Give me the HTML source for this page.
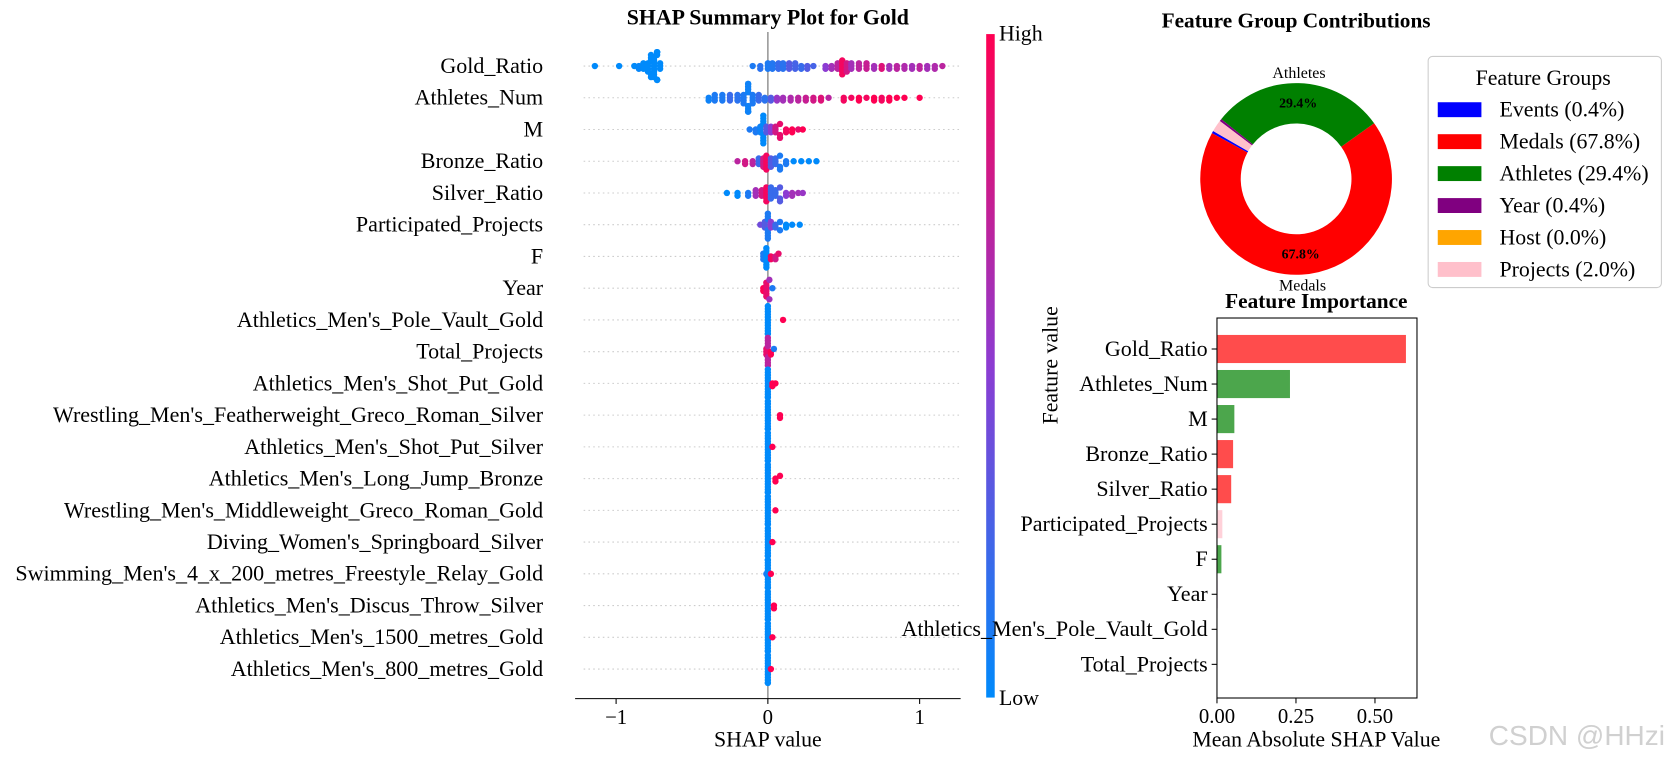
<!DOCTYPE html>
<html><head><meta charset="utf-8"><style>
html,body{margin:0;padding:0;background:#fff;width:1669px;height:763px;overflow:hidden}
svg{font-family:"Liberation Serif",serif}
</style></head><body>
<svg id="c" width="1669" height="763" xmlns="http://www.w3.org/2000/svg">
<defs><linearGradient id="cb" x1="0" y1="1" x2="0" y2="0">
<stop offset="0" stop-color="#008afb"/><stop offset="0.5" stop-color="#8c3cd2"/><stop offset="1" stop-color="#ff0052"/></linearGradient></defs>
<g id="g" transform="scale(1.065)"></g>
<text x="1665" y="745" text-anchor="end" font-size="28" fill="#d0d0d0" font-family="Liberation Sans, sans-serif">CSDN @HHzi</text>
</svg>
<script>
const features=["Gold_Ratio","Athletes_Num","M","Bronze_Ratio","Silver_Ratio","Participated_Projects","F","Year","Athletics_Men's_Pole_Vault_Gold","Total_Projects","Athletics_Men's_Shot_Put_Gold","Wrestling_Men's_Featherweight_Greco_Roman_Silver","Athletics_Men's_Shot_Put_Silver","Athletics_Men's_Long_Jump_Bronze","Wrestling_Men's_Middleweight_Greco_Roman_Gold","Diving_Women's_Springboard_Silver","Swimming_Men's_4_x_200_metres_Freestyle_Relay_Gold","Athletics_Men's_Discus_Throw_Silver","Athletics_Men's_1500_metres_Gold","Athletics_Men's_800_metres_Gold"];
// points: [shap value, feature value (0..1), count]
const shapPoints=[
[[-1.14,0,1],[-0.98,0,1],[-0.88,0,1],[-0.85,0.02,2],[-0.82,0,3],[-0.79,0,4],[-0.77,0,5],[-0.75,0,8],[-0.73,0,10],[-0.71,0,3],[-0.1,0.1,1],[-0.05,0.15,2],[0,0.1,3],[0.03,0.12,3],[0.07,0.2,3],[0.1,0.15,3],[0.14,0.3,3],[0.18,0.25,3],[0.22,0.2,2],[0.26,0.3,2],[0.3,0.25,1],[0.38,0.5,2],[0.42,0.6,2],[0.46,0.7,3],[0.49,0.95,6],[0.52,0.8,4],[0.55,0.6,3],[0.6,0.7,3],[0.65,0.75,3],[0.7,0.6,2],[0.75,0.85,2],[0.8,0.6,2],[0.85,0.7,2],[0.9,0.65,2],[0.95,0.6,2],[1.0,0.7,2],[1.05,0.6,2],[1.1,0.65,2],[1.15,0.7,1]],
[[-0.39,0.05,2],[-0.35,0.1,3],[-0.3,0.1,3],[-0.25,0.2,3],[-0.2,0.15,3],[-0.16,0.1,4],[-0.13,0.05,10],[-0.1,0.1,4],[-0.06,0.2,3],[-0.02,0.15,2],[0.02,0.3,2],[0.06,0.55,2],[0.1,0.6,2],[0.15,0.65,2],[0.2,0.7,2],[0.25,0.75,2],[0.3,0.8,2],[0.35,0.85,2],[0.4,0.7,1],[0.5,0.95,2],[0.55,0.95,1],[0.6,1,2],[0.65,0.95,1],[0.7,1,2],[0.75,0.95,2],[0.8,1,2],[0.85,1,1],[0.9,1,1],[1.0,1,1]],
[[-0.12,0.1,1],[-0.08,0.1,2],[-0.05,0.05,3],[-0.03,0,8],[-0.01,0.3,3],[0.02,0.5,3],[0.05,0.8,3],[0.08,0.9,3],[0.12,0.95,2],[0.16,1,2],[0.2,0.9,1],[0.23,1,1]],
[[-0.2,0.7,1],[-0.15,0.8,2],[-0.1,0.7,2],[-0.06,0.2,3],[-0.03,0.8,4],[-0.01,0.95,6],[0.02,0.3,4],[0.05,0.2,3],[0.08,0.1,3],[0.12,0.1,2],[0.17,0,1],[0.22,0,1],[0.27,0,1],[0.32,0,1]],
[[-0.27,0,1],[-0.2,0,2],[-0.13,0.1,2],[-0.08,0.6,3],[-0.04,0.8,3],[-0.01,0.95,6],[0.02,0.2,5],[0.05,0.2,3],[0.08,0.3,3],[0.12,0.5,2],[0.16,0.6,2],[0.2,0.6,1],[0.23,0.55,1]],
[[-0.05,0.4,1],[-0.02,0.3,3],[0,0.1,7],[0.02,0.5,3],[0.05,0.2,2],[0.08,0.1,2],[0.12,0,2],[0.16,0,1],[0.21,0,1]],
[[-0.03,0.1,3],[-0.01,0,8],[0.02,0.95,2],[0.05,0.8,2],[0.07,0.9,1]],
[[-0.03,1,2],[-0.01,0.9,6],[0.01,0.6,2],[0.03,0.1,1]],
[[0,0,12],[0.1,1,1]],
[[-0.01,0.9,3],[0,0.7,8],[0.02,1,2],[0.04,0.1,1]],
[[0,0,12],[0.03,1,2],[0.05,1,1]],
[[0,0,12],[0.08,1,2]],
[[0,0,12],[0.03,1,1]],
[[0,0,12],[0.05,1,2],[0.08,1,1]],
[[0,0,12],[0.05,1,1]],
[[0,0,12],[0.03,1,1]],
[[-0.01,0.1,1],[0,0,12],[0.02,1,1]],
[[0,0,12],[0.04,1,2]],
[[0,0,12],[0.03,1,1]],
[[0,0,12],[0.02,1,1]]
];
const shapTicks=[-1,0,1];
const groupNames=["Events","Medals","Athletes","Year","Host","Projects"];
const groupShares=[0.4,67.8,29.4,0.4,0.0,2.0];
const groupColors=["#0000ff","#ff0000","#008000","#800080","#ffa500","#ffc0cb"];
const impFeatures=["Gold_Ratio","Athletes_Num","M","Bronze_Ratio","Silver_Ratio","Participated_Projects","F","Year","Athletics_Men's_Pole_Vault_Gold","Total_Projects"];
const impValues=[0.598,0.231,0.055,0.051,0.045,0.017,0.014,0.002,0.001,0.001];
const impColors=["#ff4c4c","#4ca64c","#4ca64c","#ff4c4c","#ff4c4c","#ffd1d9","#4ca64c","#cc99cc","#ff4c4c","#ffd1d9"];
const impTicks=[0,0.25,0.5];

const G=document.getElementById('g');const NS="http://www.w3.org/2000/svg";
function mk(t,a,txt){const e=document.createElementNS(NS,t);for(const k in a)e.setAttribute(k,a[k]);if(txt!==undefined)e.textContent=txt;G.appendChild(e);return e;}
const sx=v=>721+v*142.5, sy=i=>62+i*29.8;
function col(f){const a=[0,138,251],m=[140,60,210],b=[255,0,82];let c0,c1,t;if(f<0.5){c0=a;c1=m;t=f*2}else{c0=m;c1=b;t=(f-0.5)*2}return `rgb(${c0.map((v,i)=>Math.round(v+(c1[i]-v)*t)).join(',')})`;}
let t=mk('text',{x:721,y:23,'text-anchor':'middle','font-size':20.5,'font-weight':'bold'},'SHAP Summary Plot for Gold');

features.forEach((f,i)=>{
 let g=mk('line',{x1:548,x2:902,y1:sy(i),y2:sy(i),stroke:'#ccc','stroke-dasharray':'1.5,3','stroke-width':1});
 
 let l=mk('text',{x:510,y:sy(i)+6.5,'text-anchor':'end','font-size':20.7},f);
 
});
let zl=mk('line',{x1:721,x2:721,y1:30,y2:656,stroke:'#999','stroke-width':1.5});

shapPoints.forEach((pts,i)=>{
 const bins={};const all=[];
 pts.forEach(p=>{for(let k=0;k<p[2];k++)all.push(p);});
 all.forEach(p=>{const px=sx(p[0]);const b=Math.round(px/5);const n=bins[b]||0;bins[b]=n+1;
  let off=Math.ceil(n/2)*2.6*(n%2?1:-1);off=Math.max(-13,Math.min(13,off));
  const c=mk('circle',{cx:px,cy:sy(i)+off,r:3,fill:col(p[1])});
  });
});
let ax=mk('line',{x1:540,x2:902,y1:656,y2:656,stroke:'#000'});
shapTicks.forEach(v=>{mk('line',{x1:sx(v),x2:sx(v),y1:656,y2:661,stroke:'#000'});
 let tt=mk('text',{x:sx(v),y:680,'text-anchor':'middle','font-size':19.5},v<0?'\u2212'+(-v):String(v));
 });
t=mk('text',{x:721,y:701,'text-anchor':'middle','font-size':20.5},'SHAP value');
let cb=mk('rect',{x:926,y:32,width:8,height:623,fill:'url(#cb)'});
t=mk('text',{x:938,y:38,'font-size':20.5},'High');
t=mk('text',{x:938,y:662,'font-size':20.5},'Low');
t=mk('text',{x:993,y:343,'text-anchor':'middle','font-size':20.5,transform:'rotate(-90 993 343)'},'Feature value');
// Donut
t=mk('text',{x:1217,y:26,'text-anchor':'middle','font-size':20,'font-weight':'bold'},'Feature Group Contributions');
const cx=1217,cy=168,R=90,r0=52;let ang=150;const tot=groupShares.reduce((a,b)=>a+b,0);
const pt=(a,rr)=>[cx+rr*Math.cos(a*Math.PI/180),cy-rr*Math.sin(a*Math.PI/180)];
groupShares.forEach((v,i)=>{const sw=v/tot*360;if(sw<=0)return;const a2=ang+sw;const lg=sw>180?1:0;
 const [x1,y1]=pt(ang,R),[x2,y2]=pt(a2,R),[x3,y3]=pt(a2,r0),[x4,y4]=pt(ang,r0);
 const p=mk('path',{d:`M${x1},${y1}A${R},${R} 0 ${lg} 0 ${x2},${y2}L${x3},${y3}A${r0},${r0} 0 ${lg} 1 ${x4},${y4}Z`,fill:groupColors[i]});
 
 if(v>5){const mid=ang+sw/2;const [lx,ly]=pt(mid,71);
  let q=mk('text',{x:lx,y:ly+4,'text-anchor':'middle','font-size':13,'font-weight':'bold'},v.toFixed(1)+'%');
  const [ox,oy]=pt(mid,100);
  q=mk('text',{x:ox,y:oy+5,'text-anchor':'middle','font-size':15},groupNames[i]);}
 ang=a2;});
// Legend
let lb=mk('rect',{x:1341,y:53,width:219,height:217,rx:4,fill:'#fff',stroke:'#ccc'});
t=mk('text',{x:1449,y:80,'text-anchor':'middle','font-size':20.5},'Feature Groups');
groupNames.forEach((n,i)=>{const y=103+i*30;
 let r=mk('rect',{x:1350,y:y-7,width:41,height:14,fill:groupColors[i]});
 let q=mk('text',{x:1408,y:y+6.5,'font-size':20.5},`${n} (${groupShares[i].toFixed(1)}%)`);});
// Bar chart
t=mk('text',{x:1236,y:289,'text-anchor':'middle','font-size':20,'font-weight':'bold'},'Feature Importance');
const bx=v=>1142.7+v*296.7, by=i=>327.7+i*32.9;
impFeatures.forEach((f,i)=>{
 let b=mk('rect',{x:1142.7,y:by(i)-13.2,width:Math.max(0,bx(impValues[i])-1142.7),height:26.4,fill:impColors[i]});
 
 mk('line',{x1:1137.7,x2:1142.7,y1:by(i),y2:by(i),stroke:'#000'});
 let q=mk('text',{x:1134,y:by(i)+6.5,'text-anchor':'end','font-size':20.7},f);});
let fr=mk('rect',{x:1142.7,y:298.6,width:187.8,height:356.8,fill:'none',stroke:'#000'});
impTicks.forEach(v=>{mk('line',{x1:bx(v),x2:bx(v),y1:655.4,y2:660.4,stroke:'#000'});
 let q=mk('text',{x:bx(v),y:679,'text-anchor':'middle','font-size':19.5},v.toFixed(2));});
t=mk('text',{x:1236,y:701,'text-anchor':'middle','font-size':20.5},'Mean Absolute SHAP Value');
</script>
</body></html>
